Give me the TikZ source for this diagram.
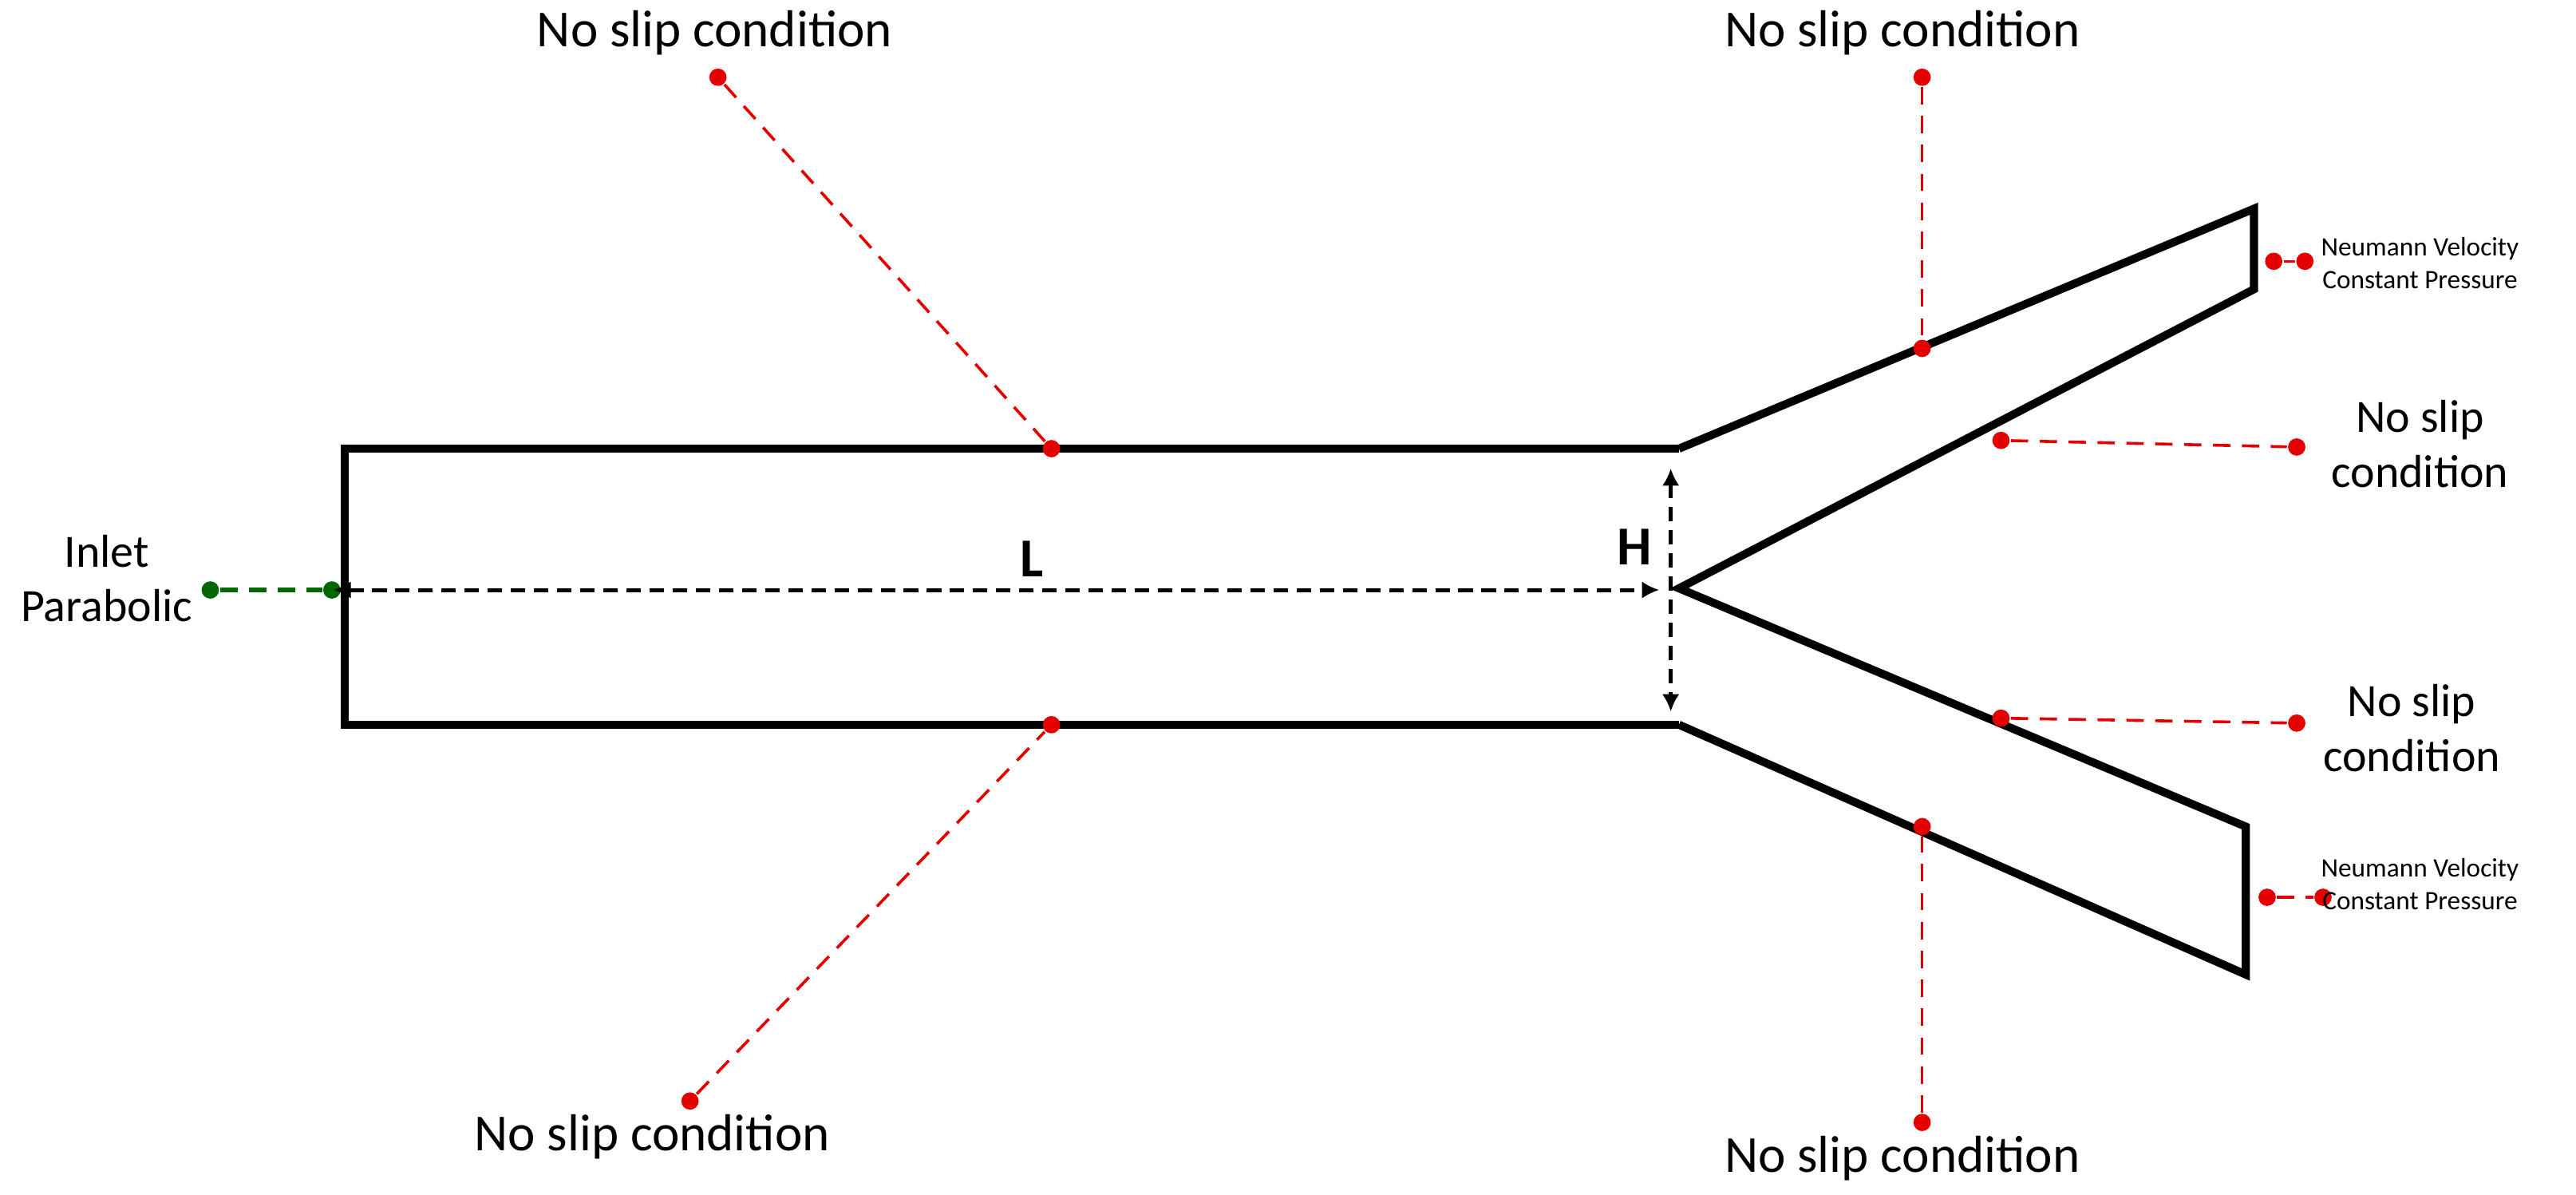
\documentclass[tikz,border=0pt]{standalone}
\usepackage{fontspec}
\setmainfont{Carlito}
\usetikzlibrary{arrows.meta}
\begin{document}
\begin{tikzpicture}[x=0.01cm,y=-0.01cm,
  wall/.style={line width=1.4pt,line join=miter},
  bc/.style={red!90!black,dashed,line width=0.5pt,dash pattern=on 3pt off 2pt},
  dotr/.style={circle,fill=red!90!black,inner sep=0pt,minimum size=3pt},
  dotg/.style={circle,fill=green!40!black,inner sep=0pt,minimum size=3pt},
  lbl/.style={font=\fontsize{9}{10.5}\selectfont,align=center},
  rlbl/.style={font=\fontsize{8}{9.5}\selectfont,align=center},
  sml/.style={font=\fontsize{4.6}{5.6}\selectfont,align=center},
  dim/.style={dashed,line width=0.7pt,dash pattern=on 2.5pt off 1.5pt,{Latex[length=3pt,width=3pt]}-{Latex[length=3pt,width=3pt]}}]
\useasboundingbox (0,0) rectangle (1568,727);
% walls
\draw[wall] (1022,273) -- (210,273) -- (210,441) -- (1022,441);
\draw[wall] (1022,273) -- (1372,127) -- (1372,176) -- (1022,358) -- (1367,503) -- (1367,593) -- (1022,441);
% no slip dots
\node[dotr] (a1) at (437,47) {}; \node[dotr] (a2) at (640,273) {};
\node[dotr] (b1) at (420,670) {}; \node[dotr] (b2) at (640,441) {};
\node[dotr] (c1) at (1170,47) {}; \node[dotr] (c2) at (1170,212) {};
\node[dotr] (d1) at (1170,683) {}; \node[dotr] (d2) at (1170,503) {};
\node[dotr] (e1) at (1218,268) {}; \node[dotr] (e2) at (1398,272) {};
\node[dotr] (f1) at (1218,437) {}; \node[dotr] (f2) at (1398,440) {};
\node[dotr] (g1) at (1384,159) {}; \node[dotr] (g2) at (1403,159) {};
\node[dotr] (h1) at (1380,546) {}; \node[dotr] (h2) at (1414,546) {};
\draw[bc] (a1) -- (a2); \draw[bc] (b1) -- (b2); \draw[bc] (c1) -- (c2);
\draw[bc] (d1) -- (d2); \draw[bc] (e1) -- (e2); \draw[bc] (f1) -- (f2);
\draw[bc] (g1) -- (g2); \draw[bc] (h1) -- (h2);
\node[lbl] (ta) at (435,20) {No slip condition};
\node[lbl] (tb) at (397,692) {No slip condition};
\node[lbl] (tc) at (1158,20) {No slip condition};
\node[lbl] (td) at (1158,705) {No slip condition};
\node[rlbl] (te) at (1473,270) {No slip\\condition};
\node[rlbl] (tf) at (1468,443) {No slip\\condition};
\node[sml] (tg) at (1473,160) {Neumann Velocity\\Constant Pressure};
\node[sml] (th) at (1473,538) {Neumann Velocity\\Constant Pressure};
% inlet
\node[dotg] (i1) at (128,359) {}; \node[dotg] (i2) at (202,359) {};
\draw[green!40!black,dashed,line width=0.8pt,dash pattern=on 3pt off 2pt] (i1) -- (i2);
\node[rlbl] (ti) at (65,352) {Inlet\\Parabolic};
% dimensions
\coordinate (l1) at (203,359); \coordinate (l2) at (1010,359);
\draw[dim] (l1) -- (l2);
\node[lbl,font=\fontsize{9.5}{11}\bfseries] (tl) at (628,340) {L};
\coordinate (h1c) at (1017,285); \coordinate (h2c) at (1017,433);
\draw[dim] (h1c) -- (h2c);
\node[lbl,font=\fontsize{9.5}{11}\bfseries] (th2) at (995,333) {H};
\end{tikzpicture}
\end{document}
